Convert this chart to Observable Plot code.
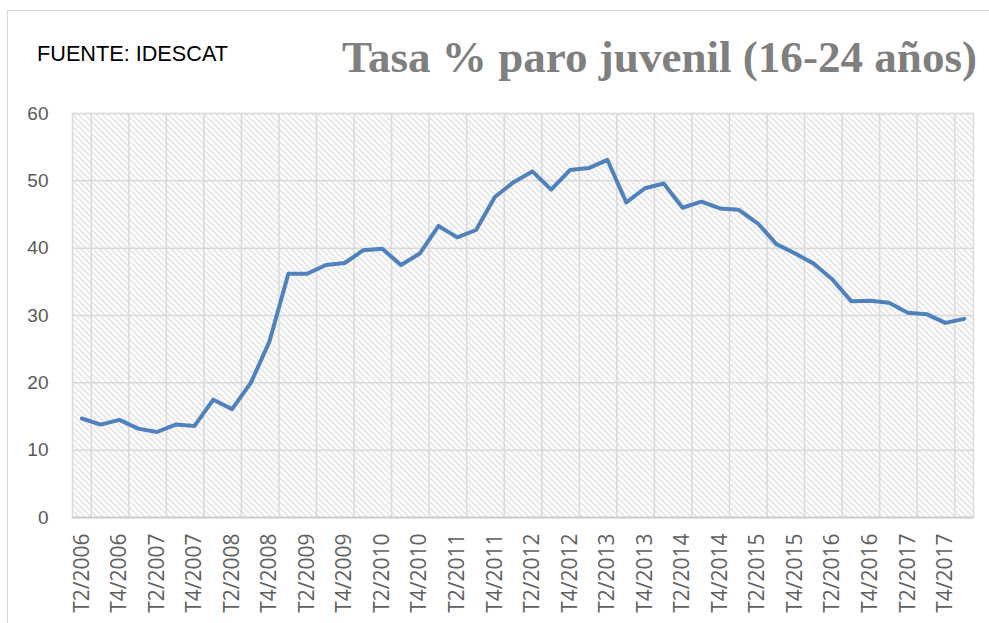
<!DOCTYPE html>
<html><head><meta charset="utf-8">
<script src="https://cdn.jsdelivr.net/npm/d3@7"></script>
<script src="https://cdn.jsdelivr.net/npm/@observablehq/plot@0.6"></script>
<style>
body{margin:0;background:#fff}
#wrap{position:relative;width:989px;height:623px;overflow:hidden;background:#fff}
#border{position:absolute;left:7px;top:10px;width:1000px;height:700px;border-left:1.5px solid #d9d9d9;border-top:1.5px solid #d9d9d9;box-sizing:border-box}
#chart{position:absolute;left:0;top:0}
#source{position:absolute;left:37px;top:43px;font-family:"Liberation Sans",Arial,sans-serif;font-size:22px;line-height:22px;color:#000;white-space:nowrap;transform-origin:0 0}
#title{position:absolute;left:342px;top:35px;font-family:"Liberation Serif",serif;font-weight:bold;font-size:45px;line-height:45px;color:#7f7f7f;white-space:nowrap;transform-origin:0 0}
#chart [aria-label="x-axis tick label"]{font-family:"Open Sans",sans-serif;font-size:21px;fill:#606060}
#chart [aria-label="y-axis tick label"]{font-family:"Liberation Sans",Arial,sans-serif;font-size:19px;fill:#595959}
</style>
</head><body>
<div id="wrap">
  <div id="border"></div>
  <div id="chart"></div>
  <div id="source">FUENTE: IDESCAT</div>
  <div id="title">Tasa % paro juvenil (16-24 años)</div>
</div>
<script>
const quarters = [
  "T2/2006","T3/2006","T4/2006",
  "T1/2007","T2/2007","T3/2007","T4/2007",
  "T1/2008","T2/2008","T3/2008","T4/2008",
  "T1/2009","T2/2009","T3/2009","T4/2009",
  "T1/2010","T2/2010","T3/2010","T4/2010",
  "T1/2011","T2/2011","T3/2011","T4/2011",
  "T1/2012","T2/2012","T3/2012","T4/2012",
  "T1/2013","T2/2013","T3/2013","T4/2013",
  "T1/2014","T2/2014","T3/2014","T4/2014",
  "T1/2015","T2/2015","T3/2015","T4/2015",
  "T1/2016","T2/2016","T3/2016","T4/2016",
  "T1/2017","T2/2017","T3/2017","T4/2017",
  "T1/2018"
];
const paroJuvenil = [
  14.7,13.8,14.5,
  13.2,12.7,13.8,13.6,
  17.5,16.1,20.0,26.2,
  36.2,36.2,37.5,37.8,
  39.7,39.9,37.5,39.2,
  43.3,41.6,42.7,47.6,
  49.8,51.4,48.7,51.6,
  51.9,53.1,46.8,48.9,
  49.6,46.0,46.9,45.9,
  45.7,43.7,40.6,39.2,
  37.7,35.3,32.1,32.2,
  31.9,30.4,30.2,28.9,
  29.5
];
const yTicks = [0,10,20,30,40,50,60];

const data = quarters.map((q, i) => ({q, i, v: paroJuvenil[i]}));
const n = quarters.length;
const labelTicks = data.filter(d => d.i % 2 === 0).map(d => d.i + 0.5);
const gridX = d3.range(1, n, 2);

const chart = Plot.plot({
  width: 989,
  height: 623,
  marginLeft: 72,
  marginRight: 16,
  marginTop: 113,
  marginBottom: 106,
  style: {background: "transparent", overflow: "visible"},
  x: {type: "linear", domain: [0, n], label: null},
  y: {domain: [0, 60], label: null},
  marks: [
    Plot.frame({fill: "url(#hatch)", stroke: "#d9d9d9", strokeWidth: 1.3}),
    Plot.ruleY(yTicks, {stroke: "#d9d9d9", strokeWidth: 1.5}),
    Plot.ruleX(gridX, {stroke: "#d9d9d9", strokeWidth: 1.5}),
    Plot.ruleY([0], {stroke: "#c8c8c8", strokeWidth: 1.5}),
    Plot.lineY(data, {x: d => d.i + 0.5, y: "v", stroke: "#4f81bd", strokeWidth: 4, strokeLinejoin: "round", strokeLinecap: "round"}),
    Plot.axisY({ticks: yTicks, tickSize: 0, tickPadding: 24, label: null, tickFormat: d => String(d)}),
    Plot.axisX({ticks: labelTicks, tickSize: 0, tickPadding: 16, tickRotate: -90, label: null, tickFormat: v => quarters[Math.floor(v)]})
  ]
});
document.getElementById("chart").appendChild(chart);

const ns = "http://www.w3.org/2000/svg";
const defs = document.createElementNS(ns, "defs");
defs.innerHTML = '<pattern id="hatch" width="6" height="6" patternUnits="userSpaceOnUse">' +
  '<rect width="6" height="6" fill="#ffffff"/>' +
  '<path d="M-1,-1 L7,7 M-1,5 L1,7 M5,-1 L7,1" stroke="#d6d6d6" stroke-width="1.2"/></pattern>';
chart.insertBefore(defs, chart.firstChild);
const fr = chart.querySelector('[aria-label="frame"]');
if (fr) fr.setAttribute("fill", "url(#hatch)");

function fit(id, target) {
  const el = document.getElementById(id);
  const w = el.getBoundingClientRect().width;
  el.style.transform = `scaleX(${target / w})`;
}
fit("title", 635);
fit("source", 191);
</script>
</body></html>
